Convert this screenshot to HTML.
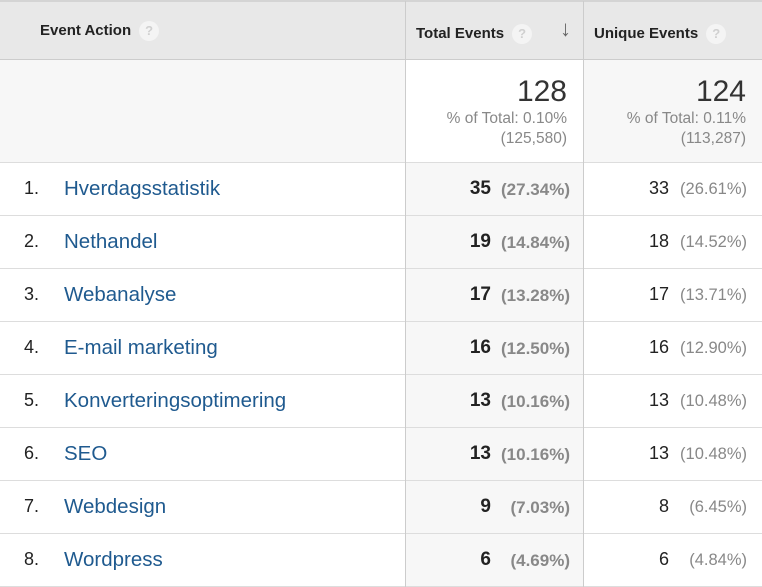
<!DOCTYPE html>
<html><head><meta charset="utf-8"><style>
body{margin:0;width:762px;height:587px;overflow:hidden;background:#fff;font-family:"Liberation Sans",Arial,sans-serif;position:relative}
div{position:absolute;box-sizing:border-box}
.hl{left:0;width:762px;height:1px;background:#ddd}
.vl{top:1px;width:1px;height:586px;background:#ccc}
.q{display:inline-block;width:20px;height:20px;border-radius:50%;background:#f4f4f4;color:#d0d0d0;font-size:13px;text-align:center;line-height:20px;vertical-align:middle;margin-left:8px}
.hd{font-weight:bold;font-size:15px;color:#222;top:24px}
.name{font-size:20.5px;color:#1f5a8f;left:64px}
.idx{font-size:18px;color:#222;left:24px}
.tv{right:271px;font-size:19px;font-weight:bold;color:#222}
.tp{right:192px;font-size:17px;font-weight:bold;color:#888}
.uv{right:93px;font-size:18px;color:#222}
.up{right:15px;font-size:16.5px;color:#888}
</style></head><body>
<div style="left:0;top:0;width:762px;height:60px;background:#e8e8e8;border-top:2px solid #d4d4d4;border-bottom:1px solid #ccc"></div>
<div style="left:0;top:60px;width:405px;height:102px;background:#f7f7f7"></div>
<div style="left:583px;top:60px;width:179px;height:102px;background:#f7f7f7"></div>
<div style="left:405px;top:162px;width:178px;height:425px;background:#f7f7f7"></div>
<div class="hl" style="top:162px"></div><div class="hl" style="top:215px"></div><div class="hl" style="top:268px"></div><div class="hl" style="top:321px"></div><div class="hl" style="top:374px"></div><div class="hl" style="top:427px"></div><div class="hl" style="top:480px"></div><div class="hl" style="top:533px"></div><div class="hl" style="top:586px"></div>
<div class="vl" style="left:405px"></div><div class="vl" style="left:583px"></div>
<div class="hd" style="left:40px;top:21px">Event Action<span class="q">?</span></div>
<div class="hd" style="left:416px">Total Events<span class="q">?</span></div>
<div style="left:560px;top:16px;font-size:22px;color:#666;font-weight:bold">↓</div>
<div class="hd" style="left:594px">Unique Events<span class="q">?</span></div>
<div style="right:195px;top:75px;font-size:30px;color:#333;text-align:right">128</div>
<div style="right:195px;top:109px;font-size:15.5px;color:#888;text-align:right;line-height:20px">% of Total: 0.10%<br>(125,580)</div>
<div style="right:16px;top:75px;font-size:30px;color:#333;text-align:right">124</div>
<div style="right:16px;top:109px;font-size:15.5px;color:#888;text-align:right;line-height:20px">% of Total: 0.11%<br>(113,287)</div>

<div class="idx" style="top:178px">1.</div><div class="name" style="top:177px">Hverdagsstatistik</div><div class="tv" style="top:178px">35</div><div class="tp" style="top:180px">(27.34%)</div><div class="uv" style="top:178px">33</div><div class="up" style="top:180px">(26.61%)</div>
<div class="idx" style="top:231px">2.</div><div class="name" style="top:230px">Nethandel</div><div class="tv" style="top:231px">19</div><div class="tp" style="top:233px">(14.84%)</div><div class="uv" style="top:231px">18</div><div class="up" style="top:233px">(14.52%)</div>
<div class="idx" style="top:284px">3.</div><div class="name" style="top:283px">Webanalyse</div><div class="tv" style="top:284px">17</div><div class="tp" style="top:286px">(13.28%)</div><div class="uv" style="top:284px">17</div><div class="up" style="top:286px">(13.71%)</div>
<div class="idx" style="top:337px">4.</div><div class="name" style="top:336px">E-mail marketing</div><div class="tv" style="top:337px">16</div><div class="tp" style="top:339px">(12.50%)</div><div class="uv" style="top:337px">16</div><div class="up" style="top:339px">(12.90%)</div>
<div class="idx" style="top:390px">5.</div><div class="name" style="top:389px">Konverteringsoptimering</div><div class="tv" style="top:390px">13</div><div class="tp" style="top:392px">(10.16%)</div><div class="uv" style="top:390px">13</div><div class="up" style="top:392px">(10.48%)</div>
<div class="idx" style="top:443px">6.</div><div class="name" style="top:442px">SEO</div><div class="tv" style="top:443px">13</div><div class="tp" style="top:445px">(10.16%)</div><div class="uv" style="top:443px">13</div><div class="up" style="top:445px">(10.48%)</div>
<div class="idx" style="top:496px">7.</div><div class="name" style="top:495px">Webdesign</div><div class="tv" style="top:496px">9</div><div class="tp" style="top:498px">(7.03%)</div><div class="uv" style="top:496px">8</div><div class="up" style="top:498px">(6.45%)</div>
<div class="idx" style="top:549px">8.</div><div class="name" style="top:548px">Wordpress</div><div class="tv" style="top:549px">6</div><div class="tp" style="top:551px">(4.69%)</div><div class="uv" style="top:549px">6</div><div class="up" style="top:551px">(4.84%)</div>
</body></html>
